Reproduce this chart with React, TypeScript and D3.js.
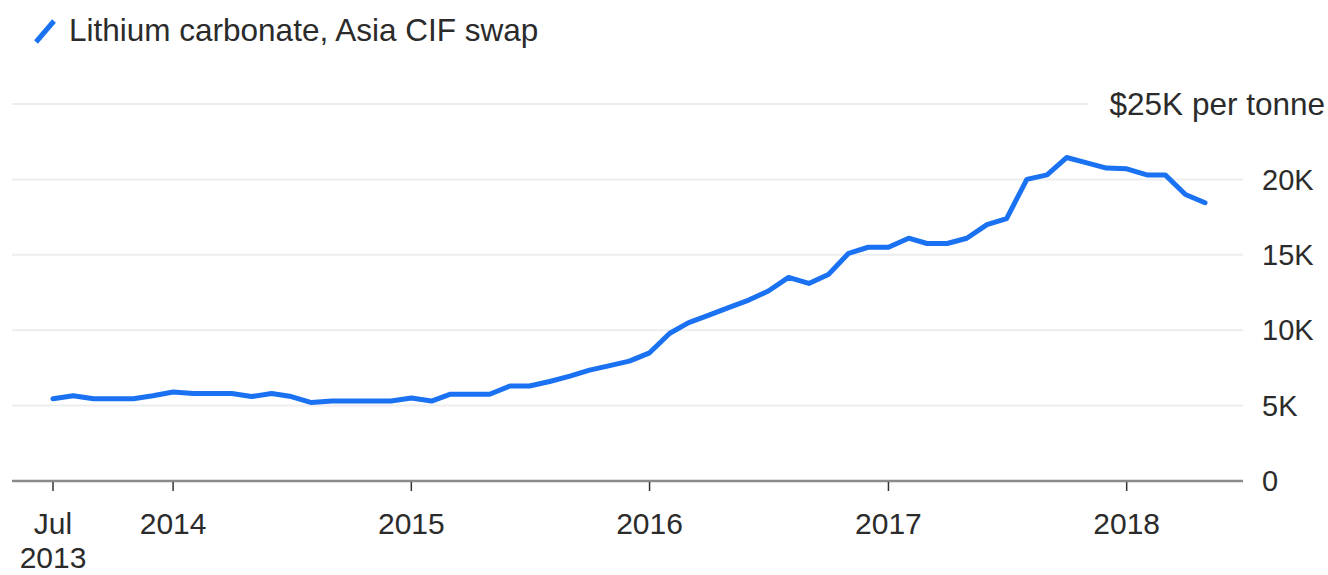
import React, { useEffect, useRef } from 'react';
import * as d3 from 'd3';

// Monthly lithium carbonate price, $ thousand per tonne, Jul 2013 – May 2018
const startMonth = new Date(Date.UTC(2013, 6, 1));
const priceK = [
  5.45, 5.65, 5.45, 5.45, 5.45, 5.65, 5.9, 5.8, 5.8, 5.8,
  5.6, 5.8, 5.6, 5.2, 5.3, 5.3, 5.3, 5.3, 5.5, 5.3,
  5.75, 5.75, 5.75, 6.3, 6.3, 6.6, 6.95, 7.35, 7.65, 7.95,
  8.5, 9.8, 10.5, 11.0, 11.5, 12.0, 12.6, 13.5, 13.1, 13.7,
  15.1, 15.5, 15.5, 16.1, 15.75, 15.75, 16.1, 17.0, 17.4, 20.0,
  20.3, 21.45, 21.1, 20.75, 20.7, 20.3, 20.3, 19.0, 18.45,
];
const xTickDates = ['2013-07-01', '2014-01-01', '2015-01-01', '2016-01-01', '2017-01-01', '2018-01-01'];
const xTickLabels = [['Jul', '2013'], ['2014'], ['2015'], ['2016'], ['2017'], ['2018']];
const yTicks = [0, 5000, 10000, 15000, 20000, 25000];
const yTickLabels = ['0', '5K', '10K', '15K', '20K', '$25K per tonne'];
const legendLabel = 'Lithium carbonate, Asia CIF swap';

const W = 1328;
const H = 575;
const BLUE = '#1a72f2';
const FONT = '"Liberation Sans", Arial, sans-serif';

export default function App() {
  const ref = useRef<SVGSVGElement | null>(null);

  useEffect(() => {
    document.body.style.margin = '0';
    if (!ref.current) return;
    const svg = d3.select(ref.current);
    svg.selectAll('*').remove();

    const data = priceK.map((v, i) => ({
      date: d3.utcMonth.offset(startMonth, i),
      value: v * 1000,
    }));

    const x = d3.scaleUtc()
      .domain([startMonth, data[data.length - 1].date])
      .range([53, 1205]);
    const y = d3.scaleLinear().domain([0, 25000]).range([481, 104]);

    const left = 12;
    const right = 1243;

    // gridlines
    svg.append('g')
      .selectAll('line')
      .data(yTicks.filter(d => d > 0))
      .join('line')
      .attr('x1', left)
      .attr('x2', d => (d === 25000 ? 1088 : right))
      .attr('y1', d => y(d))
      .attr('y2', d => y(d))
      .attr('stroke', '#ededed')
      .attr('stroke-width', 2);

    // y labels
    svg.append('g')
      .selectAll('text')
      .data(yTicks)
      .join('text')
      .attr('x', d => (d === 25000 ? 1325 : 1262))
      .attr('y', d => y(d))
      .attr('dy', '0.35em')
      .attr('text-anchor', d => (d === 25000 ? 'end' : 'start'))
      .attr('fill', '#2b2b2b')
      .style('font-family', FONT)
      .style('font-size', d => (d === 25000 ? '31.5px' : '29px'))
      .text((d, i) => yTickLabels[i]);

    // x axis
    const tickDates = xTickDates.map(s => new Date(s + 'T00:00:00Z'));
    const xAxis = svg.append('g')
      .attr('transform', `translate(0,${y(0)})`);
    xAxis.append('line')
      .attr('x1', left)
      .attr('x2', right)
      .attr('stroke', '#8a8a8a')
      .attr('stroke-width', 2.5);
    const ticks = xAxis.selectAll('g.tick')
      .data(tickDates)
      .join('g')
      .attr('class', 'tick')
      .attr('transform', d => `translate(${x(d)},0)`);
    ticks.append('line')
      .attr('y1', 1)
      .attr('y2', 10)
      .attr('stroke', '#333')
      .attr('stroke-width', 1.5);
    ticks.append('text')
      .attr('text-anchor', 'middle')
      .attr('fill', '#2b2b2b')
      .style('font-family', FONT)
      .style('font-size', '30px')
      .selectAll('tspan')
      .data((d, i) => xTickLabels[i])
      .join('tspan')
      .attr('x', 0)
      .attr('y', (d, i) => 53 + i * 34)
      .text(d => d);

    // line
    const line = d3.line<{ date: Date; value: number }>()
      .x(d => x(d.date))
      .y(d => y(d.value));
    svg.append('path')
      .datum(data)
      .attr('d', line)
      .attr('fill', 'none')
      .attr('stroke', BLUE)
      .attr('stroke-width', 5)
      .attr('stroke-linejoin', 'round')
      .attr('stroke-linecap', 'round');

    // legend
    svg.append('line')
      .attr('x1', 36)
      .attr('y1', 42)
      .attr('x2', 54)
      .attr('y2', 21)
      .attr('stroke', BLUE)
      .attr('stroke-width', 5);
    svg.append('text')
      .attr('x', 69)
      .attr('y', 41)
      .attr('fill', '#2b2b2b')
      .style('font-family', FONT)
      .style('font-size', '31.5px')
      .text(legendLabel);
  }, []);

  return (
    <svg
      ref={ref}
      width={W}
      height={H}
      style={{ position: 'absolute', left: 0, top: 0, background: '#fff' }}
    />
  );
}
